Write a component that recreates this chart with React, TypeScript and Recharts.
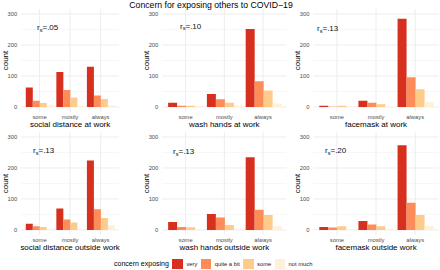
import React from 'react';
import { BarChart, Bar, XAxis, YAxis, CartesianGrid, Label } from 'recharts';

const categories = ['some', 'mostly', 'always'];
const seriesNames = ['very', 'quite a bit', 'some', 'not much'];
const seriesColors = ['#D7301F', '#FC8D59', '#FDCC8A', '#FEF0D9'];
const panelTitles = [
  'social distance at work',
  'wash hands at work',
  'facemask at work',
  'social distance outside work',
  'wash hands outside work',
  'facemask outside work',
];
const rsValues = ['.05', '.10', '.13', '.13', '.13', '.20'];
const yTicks = [0, 100, 200, 300];
const yMinor = [50, 150, 250];

// rows: categories (some, mostly, always); columns: very, quite a bit, some, not much
const socialDistanceWork = [[63, 20, 13, 7], [113, 55, 31, 3], [130, 37, 26, 6]];
const washHandsWork = [[14, 4, 4, 3], [42, 25, 14, 4], [252, 83, 53, 11]];
const facemaskWork = [[4, 1, 4, 1], [20, 14, 9, 1], [285, 96, 57, 15]];
const socialDistanceOutside = [[20, 12, 10, 4], [69, 34, 24, 1], [224, 67, 39, 15]];
const washHandsOutside = [[26, 10, 9, 3], [52, 40, 16, 4], [235, 65, 48, 12]];
const facemaskOutside = [[10, 8, 12, 1], [29, 18, 12, 4], [273, 88, 48, 13]];

const panelValues = [
  socialDistanceWork,
  washHandsWork,
  facemaskWork,
  socialDistanceOutside,
  washHandsOutside,
  facemaskOutside,
];

// layout (pixels)
const FONT = '"Liberation Sans", Arial, Helvetica, sans-serif';
const colLeft = [0, 140, 290];
const colYAxisW = [21.2, 22.3, 23.4];
const colWidth = [120, 147.4, 149.7];
const rowTop = [0, 123.3];
const MT = 9.35;
const PLOT_H = 102.3;
const XAXIS_H = 15.65;
const MB = 2;
const CHART_H = MT + PLOT_H + XAXIS_H + MB;
const annPos = [
  [37, 30],
  [180, 28.5],
  [317, 30.7],
  [33, 153.3],
  [173, 154],
  [325, 153.3],
];

const buildRows = (vals: number[][]) =>
  categories.map((c, i) => {
    const row: Record<string, any> = { category: c };
    seriesNames.forEach((_, j) => {
      row['s' + j] = vals[i][j];
    });
    return row;
  });

const renderTick = (props: any) => (
  <text
    x={props.x}
    y={props.y + 7.35}
    textAnchor="middle"
    fontSize={5.8}
    fontFamily={FONT}
    fill="#4D4D4D"
  >
    {props.payload.value}
  </text>
);

const renderYTick = (props: any) => (
  <text
    x={props.x}
    y={props.y + 2}
    textAnchor="end"
    fontSize={5.8}
    fontFamily={FONT}
    fill="#4D4D4D"
  >
    {props.payload.value}
  </text>
);

const renderCount = (props: any) => {
  const vb = props.viewBox || { x: 0, y: 0, width: 0, height: 0 };
  const cx = vb.x + vb.width - 16;
  const cy = vb.y + vb.height / 2;
  return (
    <text
      x={cx + 2.8}
      y={cy}
      transform={`rotate(-90 ${cx + 2.8} ${cy})`}
      textAnchor="middle"
      fontSize={8}
      fontFamily={FONT}
      fill="#000"
    >
      count
    </text>
  );
};

function Panel({ idx }: { idx: number }) {
  const col = idx % 3;
  const row = Math.floor(idx / 3);
  const yw = colYAxisW[col];
  const w = colWidth[col];
  const plotW = w - 1 - yw;
  const pad = plotW / 32;
  const data = buildRows(panelValues[idx]);
  const vGen = ({ offset }: any) => {
    const band = (offset.width - 2 * pad) / categories.length;
    return categories.map((_, i) => offset.left + pad + (i + 0.5) * band);
  };
  return (
    <div style={{ position: 'absolute', left: colLeft[col], top: rowTop[row] }}>
      <BarChart
        width={w}
        height={CHART_H}
        data={data}
        margin={{ top: MT, right: 1, bottom: MB, left: 0 }}
        barCategoryGap="5%"
        barGap={0}
      >
        <CartesianGrid
          stroke="#EFEFEF"
          strokeWidth={0.5}
          vertical={false}
          horizontalValues={yMinor}
          syncWithTicks={false}
        />
        <CartesianGrid
          stroke="#EBEBEB"
          strokeWidth={0.9}
          horizontalValues={yTicks}
          verticalCoordinatesGenerator={vGen}
        />
        <XAxis
          dataKey="category"
          height={XAXIS_H}
          tickSize={0}
          tickMargin={0}
          axisLine={false}
          tickLine={false}
          interval={0}
          padding={{ left: pad, right: pad }}
          tick={renderTick}
        >
          <Label
            value={panelTitles[idx]}
            position="insideBottom"
            offset={0}
            fontSize={8}
            fontFamily={FONT}
            fill="#000"
          />
        </XAxis>
        <YAxis
          width={yw}
          domain={[-15, 315]}
          ticks={yTicks}
          allowDataOverflow
          interval={0}
          tickSize={0}
          tickMargin={4}
          axisLine={false}
          tickLine={false}
          tick={renderYTick}
        >
          <Label content={renderCount} />
        </YAxis>
        {seriesNames.map((n, j) => (
          <Bar key={n} dataKey={'s' + j} name={n} fill={seriesColors[j]} isAnimationActive={false} />
        ))}
      </BarChart>
    </div>
  );
}

export default function App() {
  return (
    <div
      style={{
        position: 'absolute',
        left: 0,
        top: 0,
        width: 440,
        height: 270,
        background: '#fff',
        overflow: 'hidden',
        fontFamily: FONT,
      }}
    >
      {panelTitles.map((_, i) => (
        <Panel key={i} idx={i} />
      ))}
      <svg
        width={440}
        height={270}
        style={{ position: 'absolute', left: 0, top: 0, pointerEvents: 'none' }}
      >
        <text x={129.3} y={7.6} fontSize={8.7} fontFamily={FONT} fill="#000">
          Concern for exposing others to COVID−19
        </text>
        {rsValues.map((v, i) => (
          <text key={i} x={annPos[i][0]} y={annPos[i][1]} fontSize={8} fontFamily={FONT} fill="#111">
            r
            <tspan fontSize={5.6} dy={1.8}>
              s
            </tspan>
            <tspan dy={-1.8}>={v}</tspan>
          </text>
        ))}
      </svg>
      <div
        style={{
          position: 'absolute',
          left: 114,
          top: 258.7,
          height: 10.6,
          display: 'flex',
          alignItems: 'center',
          whiteSpace: 'nowrap',
        }}
      >
        <span style={{ fontSize: 7, color: '#000', marginRight: 3.6 }}>concern exposing</span>
        {seriesNames.map((n, j) => (
          <span key={n} style={{ display: 'flex', alignItems: 'center', marginRight: 3.3 }}>
            <span style={{ width: 10.6, height: 10.6, background: seriesColors[j], display: 'inline-block' }} />
            <span style={{ marginLeft: 3.4, fontSize: 5.8, color: '#222' }}>{n}</span>
          </span>
        ))}
      </div>
    </div>
  );
}
